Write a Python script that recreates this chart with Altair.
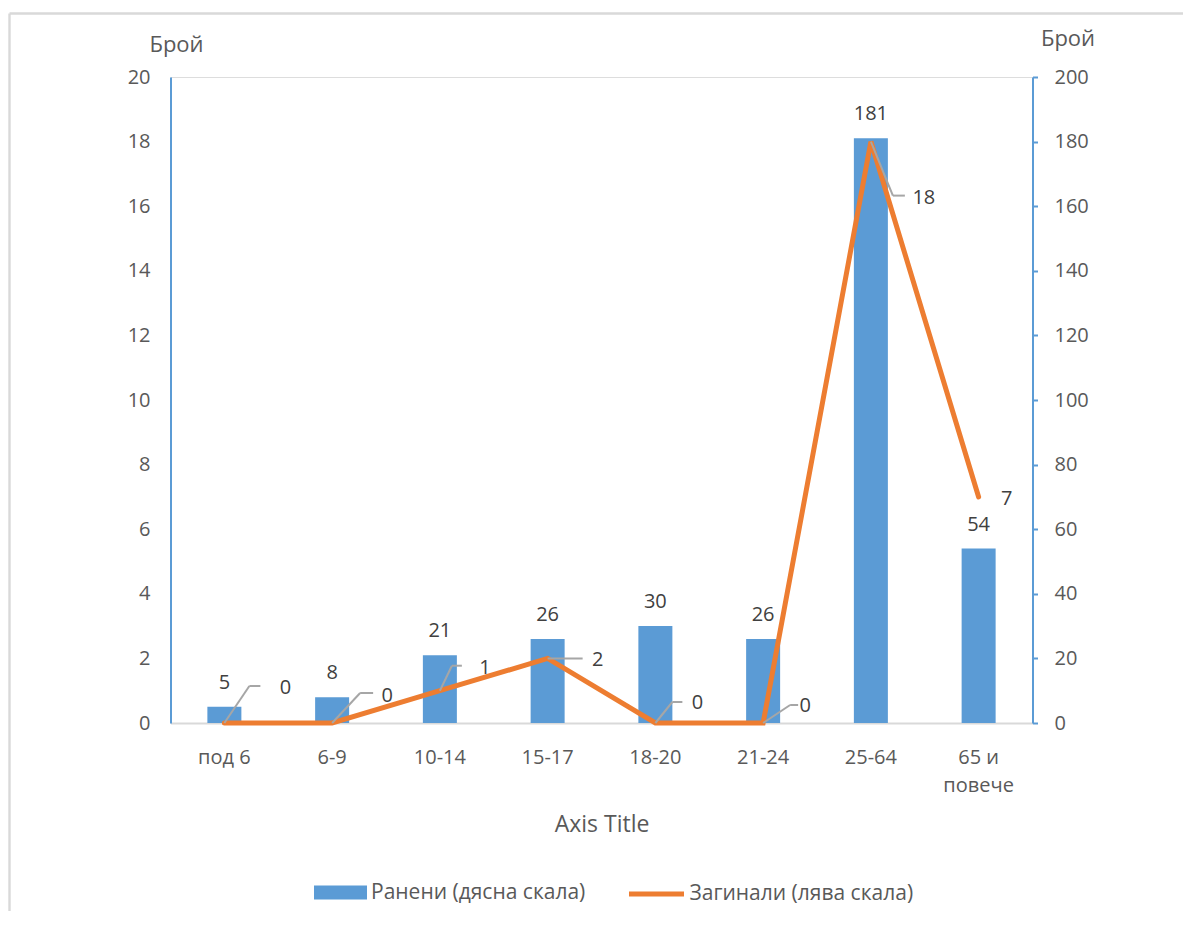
import altair as alt
import pandas as pd

categories = ["под 6", "6-9", "10-14", "15-17", "18-20", "21-24", "25-64", "65 и повече"]
injured = [5, 8, 21, 26, 30, 26, 181, 54]
killed = [0, 0, 1, 2, 0, 0, 18, 7]
injured_name = "Ранени (дясна скала)"
killed_name = "Загинали (лява скала)"
left_ticks = list(range(0, 21, 2))
right_ticks = list(range(0, 201, 20))

# placement of the (hand-dragged) data labels of the killed series, pixel offsets from each point
label_dx = [61, 55, 45, 50, 42, 42, 53, 28]
label_dy = [-35, -27, -23, 2, -20, -17, 56, 2]
elbow_dx = [25, 28, 12, 0, 17, 27, 22, 0]
elbow_dy = [-37, -30, -25, 0, -21, -18, 54, 0]
end_dx = [36, 41, 22, 35, 27, 35, 34, 0]

df = pd.DataFrame({
    "cat": categories,
    "idx": list(range(len(categories))),
    "inj": injured,
    "kil": killed,
    "s1": injured_name,
    "s2": killed_name,
    "ldx": label_dx,
    "ldy": label_dy,
    "edx": elbow_dx,
    "edy": elbow_dy,
    "fdx": end_dx,
})

GRAY = "#595959"
BLUE = "#5B9BD5"
ORANGE = "#ED7D31"

x = alt.X(
    "cat:N", sort=categories, title="Axis Title",
    scale=alt.Scale(paddingInner=0, paddingOuter=0),
    axis=alt.Axis(
        labelAngle=0,
        labelExpr="datum.value == '65 и повече' ? ['65 и', 'повече'] : datum.label",
        domainColor="#D9D9D9", domainWidth=2, ticks=False, tickSize=0,
        labelPadding=24, labelLineHeight=28, labelFontSize=20, labelColor=GRAY,
        titleFontSize=23, titleColor=GRAY, titleFontWeight="normal",
        titleY=101.5, titleBaseline="middle",
    ),
)

y_r = alt.Y(
    "inj:Q", title="Брой",
    scale=alt.Scale(domain=[0, 200], nice=False),
    axis=alt.Axis(
        orient="right", values=right_ticks, grid=False,
        domainColor=BLUE, domainWidth=2, tickColor=BLUE, tickWidth=2, tickSize=5,
        labelPadding=16.5, labelFontSize=20, labelColor=GRAY,
        titleAngle=0, titleX=35, titleY=-32, titleAlign="center", titleBaseline="alphabetic",
        titleFontSize=22, titleColor=GRAY, titleFontWeight="normal",
    ),
)

y_l = alt.Y(
    "kil:Q", title="Брой",
    scale=alt.Scale(domain=[0, 20], nice=False),
    axis=alt.Axis(
        orient="left", values=left_ticks, grid=False,
        domainColor=BLUE, domainWidth=2, ticks=False, tickSize=0,
        labelPadding=20.5, labelFontSize=20, labelColor=GRAY,
        titleAngle=0, titleX=5.5, titleY=-25.3, titleAlign="center", titleBaseline="alphabetic",
        titleFontSize=22, titleColor=GRAY, titleFontWeight="normal",
    ),
)

bars = alt.Chart(df).mark_bar(size=34).encode(
    x=x, y=y_r,
    fill=alt.Fill(
        "s1:N",
        scale=alt.Scale(domain=[injured_name], range=[BLUE]),
        legend=alt.Legend(
            orient="none", legendX=143.5, legendY=789, title=None,
            symbolType="M-1,-0.26L1,-0.26L1,0.26L-1,0.26Z", symbolSize=2809,
            symbolStrokeWidth=0, labelFontSize=21, labelColor=GRAY, labelOffset=4,
            labelLimit=600, padding=0,
        ),
    ),
)
bar_text = alt.Chart(df).mark_text(dy=-24, fontSize=20, color="#404040", baseline="middle").encode(
    x=x, y=y_r, text="inj:Q"
)

line = alt.Chart(df).mark_line(strokeWidth=5, strokeCap="round").encode(
    x=x, y=y_l, order=alt.Order("idx:Q"),
    stroke=alt.Stroke(
        "s2:N",
        scale=alt.Scale(domain=[killed_name], range=[ORANGE]),
        legend=alt.Legend(
            orient="none", legendX=456, legendY=787, title=None,
            symbolType="stroke", symbolSize=3025, symbolStrokeWidth=5,
            labelFontSize=21, labelColor=GRAY, labelOffset=3, labelLimit=600, padding=0,
        ),
    ),
)
lead_a = alt.Chart(df).mark_rule(
    color="#A6A6A6", strokeWidth=2,
    x2Offset={"expr": "datum.edx"}, y2Offset={"expr": "datum.edy"},
).encode(x=x, y=y_l, x2=alt.X2("cat:N"), y2=alt.Y2("kil:Q"))
lead_b = alt.Chart(df).mark_rule(
    color="#A6A6A6", strokeWidth=2,
    xOffset={"expr": "datum.edx"}, yOffset={"expr": "datum.edy"},
    x2Offset={"expr": "datum.fdx"}, y2Offset={"expr": "datum.edy"},
).encode(x=x, y=y_l, x2=alt.X2("cat:N"), y2=alt.Y2("kil:Q"))
line_text = alt.Chart(df).mark_text(
    fontSize=20, color="#404040", baseline="middle", align="center",
    dx={"expr": "datum.ldx"}, dy={"expr": "datum.ldy"},
).encode(x=x, y=y_l, text="kil:Q")

frame_df = pd.DataFrame({"k": [0]})
border_top = alt.Chart(frame_df).mark_rule(color="#D9D9D9", strokeWidth=2.4).encode(
    x=alt.value(-161), x2=alt.value(1100), y=alt.value(-63.5)
)
border_left = alt.Chart(frame_df).mark_rule(color="#D9D9D9", strokeWidth=2.4).encode(
    x=alt.value(-161), y=alt.value(-63.5), y2=alt.value(1000)
)

bar_group = alt.layer(bars, bar_text)
line_group = alt.layer(line, lead_a, lead_b, line_text)

chart = (
    alt.layer(bar_group, line_group, border_top, border_left)
    .resolve_scale(y="independent")
    .properties(
        width=862, height=646,
        padding={"left": 162.5, "top": 69, "right": 150, "bottom": 188},
        autosize=alt.AutoSizeParams(type="none"),
    )
    .configure_view(stroke=None)
    .configure(font="Open Sans")
)

chart.save("out.html", embed_options={"renderer": "svg", "actions": False})
